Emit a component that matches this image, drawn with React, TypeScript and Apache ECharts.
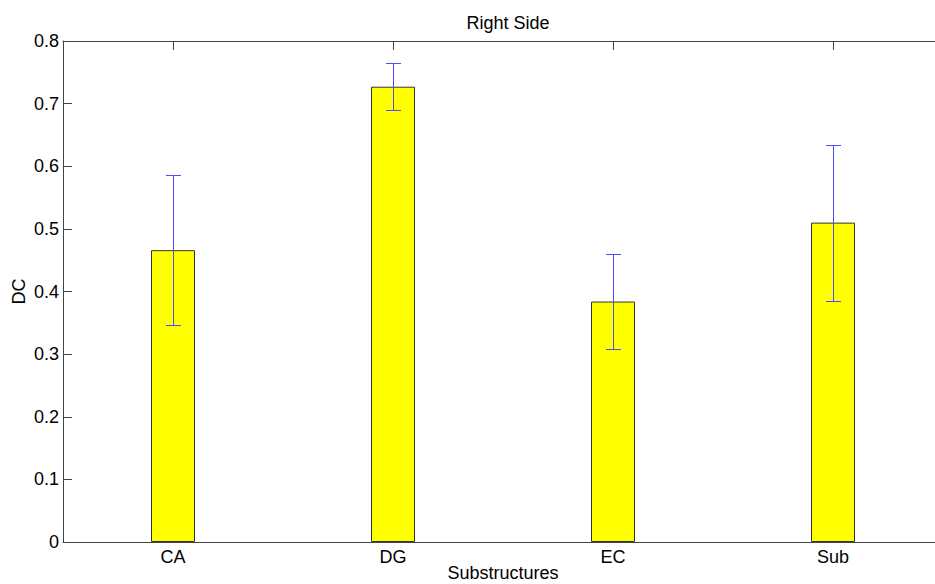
import React, { useEffect, useRef } from "react";
import * as echarts from "echarts";

const categories = ["CA", "DG", "EC", "Sub"];
const means = [0.466, 0.727, 0.384, 0.510];
const errors = [0.120, 0.0375, 0.076, 0.1245];
const yTicks = { min: 0, max: 0.8, interval: 0.1 };
const titleText = "Right Side";
const xName = "Substructures";
const yName = "DC";

const FONT = "Liberation Sans, Arial, Helvetica, sans-serif";

export default function App() {
  const ref = useRef<HTMLDivElement>(null);
  useEffect(() => {
    if (!ref.current) return;
    const chart = echarts.init(ref.current, undefined, { renderer: "svg" });
    const errData = categories.map((_, i) => [i, means[i] - errors[i], means[i] + errors[i]]);
    chart.setOption({
      animation: false,
      backgroundColor: "#ffffff",
      textStyle: { fontFamily: FONT },
      title: {
        text: titleText,
        left: 503,
        textAlign: "center",
        top: 9,
        textStyle: { fontSize: 18, fontWeight: "normal", color: "#000", fontFamily: FONT },
      },
      grid: {
        left: 63,
        top: 41,
        width: 880,
        height: 501,
        containLabel: false,
        outerBoundsMode: "none",
      },
      xAxis: [
        {
          type: "category",
          data: categories,
          position: "bottom",
          boundaryGap: true,
          axisLine: { show: true, lineStyle: { color: "#444", width: 1 } },
          axisTick: { show: true, inside: true, alignWithLabel: true, length: 9, lineStyle: { color: "#444" } },
          axisLabel: { color: "#000", fontSize: 18, fontFamily: FONT, margin: 6 },
          name: xName,
          nameLocation: "middle",
          nameGap: 22,
          nameMoveOverlap: false,
          nameTextStyle: { color: "#000", fontSize: 18, fontFamily: FONT },
          splitLine: { show: false },
        },
        {
          type: "category",
          data: categories,
          position: "top",
          boundaryGap: true,
          axisLine: { show: true, lineStyle: { color: "#444", width: 1 } },
          axisTick: { show: true, inside: true, alignWithLabel: true, length: 9, lineStyle: { color: "#444" } },
          axisLabel: { show: false },
          splitLine: { show: false },
        },
      ],
      yAxis: [
        {
          type: "value",
          min: yTicks.min,
          max: yTicks.max,
          interval: yTicks.interval,
          position: "left",
          axisLine: { show: true, lineStyle: { color: "#444", width: 1 } },
          axisTick: { show: true, inside: true, length: 9, lineStyle: { color: "#444" } },
          axisLabel: {
            color: "#000",
            fontSize: 18,
            fontFamily: FONT,
            margin: 4,
            formatter: (v: number) => (Math.round(v * 10) / 10).toString(),
          },
          splitLine: { show: false },
          name: yName,
          nameLocation: "middle",
          nameGap: 35,
          nameRotate: 90,
          nameMoveOverlap: false,
          nameTextStyle: { color: "#000", fontSize: 18, fontFamily: FONT },
        },
      ],
      series: [
        {
          type: "bar",
          data: means,
          barWidth: 44,
          itemStyle: { color: "#ffff00", borderColor: "#333", borderWidth: 1 },
          z: 2,
        },
        {
          type: "custom",
          data: errData,
          z: 3,
          renderItem: (params: any, api: any) => {
            const x = api.value(0);
            const lo = api.coord([x, api.value(1)]);
            const hi = api.coord([x, api.value(2)]);
            const cx = Math.round(lo[0]);
            const yh = Math.round(hi[1]);
            const yl = Math.round(lo[1]);
            const half = 7;
            const style = { fill: "#4d4dff", stroke: null, lineWidth: 0 };
            return {
              type: "group",
              children: [
                { type: "rect", shape: { x: cx, y: yh, width: 1, height: yl - yh }, style },
                { type: "rect", shape: { x: cx - half, y: yh, width: 2 * half + 1, height: 1 }, style },
                { type: "rect", shape: { x: cx - half, y: yl, width: 2 * half + 1, height: 1 }, style },
              ],
            };
          },
        },
      ],
    });
    return () => chart.dispose();
  }, []);
  return (
    <div
      ref={ref}
      style={{ position: "absolute", left: 0, top: 0, width: 935, height: 584, background: "#fff" }}
    />
  );
}
